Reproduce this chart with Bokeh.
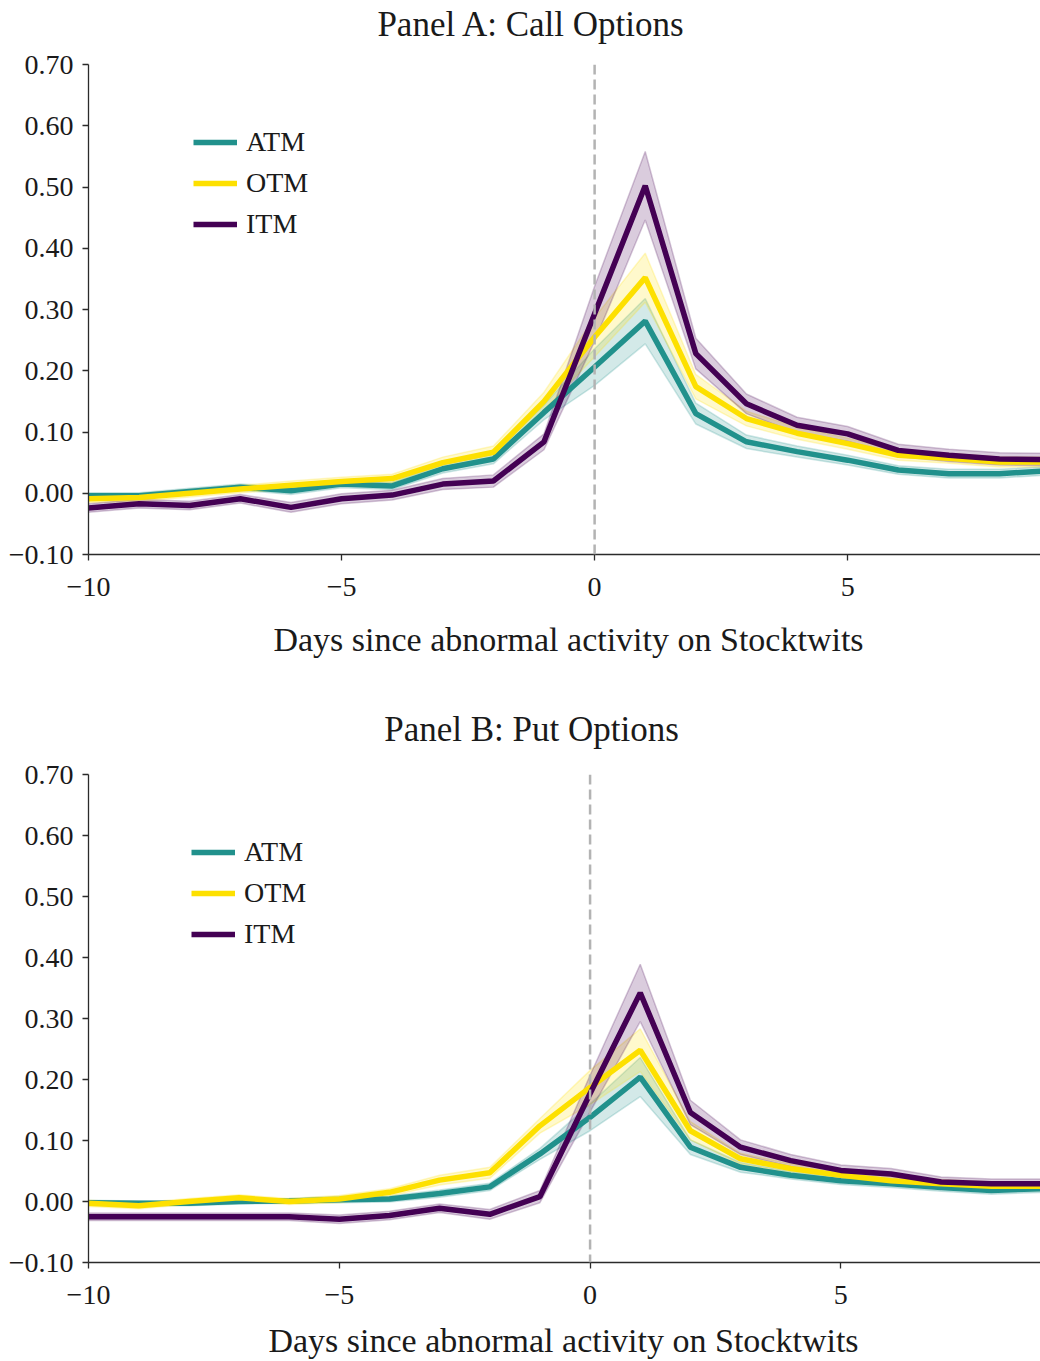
from bokeh.plotting import figure
from bokeh.models import (Span, Legend, LegendItem, FixedTicker, CustomJSTickFormatter, Range1d)
from bokeh.core.properties import value
from bokeh.layouts import column
from bokeh.embed import file_html
from bokeh.resources import INLINE

# ---------------- data ----------------
days = [-10, -9, -8, -7, -6, -5, -4, -3, -2, -1, 0, 1, 2, 3, 4, 5, 6, 7, 8, 9]

call_atm = [-0.004, -0.004, 0.003, 0.010, 0.004, 0.015, 0.012, 0.040, 0.056, 0.132,
            0.206, 0.281, 0.130, 0.084, 0.068, 0.054, 0.038, 0.032, 0.032, 0.037]
call_otm = [-0.009, -0.007, 0.000, 0.007, 0.013, 0.019, 0.024, 0.050, 0.067, 0.150,
            0.255, 0.352, 0.174, 0.122, 0.098, 0.081, 0.062, 0.057, 0.051, 0.051]
call_itm = [-0.024, -0.017, -0.020, -0.009, -0.023, -0.009, -0.003, 0.015, 0.020, 0.084,
            0.293, 0.502, 0.228, 0.146, 0.111, 0.097, 0.070, 0.062, 0.056, 0.055]
call_atm_ci = [0.005, 0.005, 0.005, 0.005, 0.006, 0.006, 0.006, 0.007, 0.008, 0.012,
               0.030, 0.037, 0.017, 0.011, 0.009, 0.008, 0.007, 0.007, 0.007, 0.007]
call_otm_ci = [0.006, 0.006, 0.006, 0.006, 0.007, 0.007, 0.007, 0.009, 0.010, 0.015,
               0.032, 0.040, 0.020, 0.012, 0.010, 0.009, 0.008, 0.008, 0.008, 0.008]
call_itm_ci = [0.007, 0.007, 0.007, 0.007, 0.008, 0.008, 0.008, 0.009, 0.010, 0.013,
               0.045, 0.056, 0.025, 0.016, 0.013, 0.012, 0.010, 0.010, 0.010, 0.010]

put_atm = [-0.002, -0.003, -0.003, 0.000, 0.001, 0.003, 0.004, 0.013, 0.024, 0.078,
           0.138, 0.204, 0.089, 0.056, 0.043, 0.034, 0.029, 0.023, 0.018, 0.021]
put_otm = [-0.003, -0.007, 0.000, 0.006, 0.000, 0.004, 0.015, 0.035, 0.047, 0.124,
           0.187, 0.248, 0.116, 0.070, 0.054, 0.043, 0.034, 0.029, 0.025, 0.025]
put_itm = [-0.025, -0.025, -0.025, -0.025, -0.025, -0.029, -0.023, -0.011, -0.021, 0.008,
           0.177, 0.342, 0.146, 0.089, 0.067, 0.051, 0.045, 0.032, 0.029, 0.029]
put_atm_ci = [0.004, 0.004, 0.004, 0.004, 0.004, 0.005, 0.005, 0.006, 0.006, 0.009,
              0.022, 0.032, 0.012, 0.008, 0.006, 0.006, 0.006, 0.006, 0.006, 0.006]
put_otm_ci = [0.005, 0.005, 0.005, 0.005, 0.005, 0.006, 0.006, 0.008, 0.009, 0.012,
              0.028, 0.035, 0.015, 0.009, 0.008, 0.007, 0.007, 0.007, 0.007, 0.007]
put_itm_ci = [0.006, 0.006, 0.006, 0.006, 0.006, 0.007, 0.007, 0.007, 0.008, 0.010,
              0.030, 0.047, 0.020, 0.012, 0.010, 0.009, 0.009, 0.008, 0.008, 0.008]

series_labels = ["ATM", "OTM", "ITM"]
y_ticks = [-0.10, 0.00, 0.10, 0.20, 0.30, 0.40, 0.50, 0.60, 0.70]
x_ticks = [-10, -5, 0, 5]
x_title = "Days since abnormal activity on Stocktwits"
titles = ["Panel A: Call Options", "Panel B: Put Options"]

# ---------------- styling ----------------
FONT = "Liberation Serif"
COLORS = ["#21918c", "#fde000", "#440154"]
AXIS_COLOR = "#2b2b2b"
TEXT_COLOR = "#1a1a1a"
Y0, Y1 = -0.10, 0.70
W = 1040
LEFT = 88          # left border shared by all rows (the column aligns frames)


def text_strip(txt, height, cx, cy, size):
    """A borderless strip holding one centred line of text (titles / axis titles).
    Its x range is expressed in page pixels so cx is the page column of the text centre."""
    f = figure(width=W, height=height, output_backend="svg", toolbar_location=None,
               x_range=Range1d(LEFT, W), y_range=Range1d(height, 0),
               min_border=0, min_border_left=LEFT,
               x_axis_type=None, y_axis_type=None)
    f.outline_line_color = None
    f.background_fill_color = "white"
    f.border_fill_color = "white"
    f.text(x=[cx], y=[cy - 0.03 * size], text=[txt], text_font=value(FONT),
           text_font_size=value(f"{size}px"), text_color=TEXT_COLOR,
           text_align="center", text_baseline="middle")
    return f


def make_panel(vals, cis, border_top, frame_h, border_bottom, x_end, legend_loc):
    p = figure(width=W, height=border_top + frame_h + border_bottom,
               output_backend="svg", toolbar_location=None,
               x_range=Range1d(-10, x_end), y_range=Range1d(Y0, Y1),
               min_border_left=LEFT, min_border_right=0,
               min_border_top=border_top, min_border_bottom=border_bottom)
    p.xgrid.visible = False
    p.ygrid.visible = False
    p.outline_line_color = None
    p.background_fill_color = "white"
    p.border_fill_color = "white"

    # confidence bands
    for v, ci, c in zip(vals, cis, COLORS):
        lo = [a - b for a, b in zip(v, ci)]
        hi = [a + b for a, b in zip(v, ci)]
        p.varea(x=days, y1=lo, y2=hi, fill_color=c, fill_alpha=0.2)
        p.line(days, lo, line_color=c, line_alpha=0.22, line_width=1.5)
        p.line(days, hi, line_color=c, line_alpha=0.22, line_width=1.5)

    p.add_layout(Span(location=0, dimension="height", line_color="#b3b3b3",
                      line_dash="10 5", line_width=2.5))

    renderers = [p.line(days, v, line_color=c, line_width=5.5) for v, c in zip(vals, COLORS)]

    legend = Legend(items=[LegendItem(label=l, renderers=[r]) for l, r in zip(series_labels, renderers)],
                    location=legend_loc, border_line_color=None, background_fill_alpha=0,
                    padding=0, margin=0, spacing=9, glyph_width=44, glyph_height=30,
                    label_height=30, label_standoff=9, label_text_font=FONT,
                    label_text_font_size="28px", label_text_color=TEXT_COLOR)
    p.add_layout(legend)

    p.xaxis.ticker = FixedTicker(ticks=x_ticks)
    p.yaxis.ticker = FixedTicker(ticks=y_ticks)
    p.xaxis.formatter = CustomJSTickFormatter(
        code="return (tick < 0 ? '\\u2212' : '') + Math.abs(tick).toFixed(0);")
    p.yaxis.formatter = CustomJSTickFormatter(
        code="return (tick < 0 ? '\\u2212' : '') + Math.abs(tick).toFixed(2);")
    for ax in (p.xaxis, p.yaxis):
        ax.minor_tick_line_color = None
        ax.axis_line_color = AXIS_COLOR
        ax.axis_line_width = 1.3
        ax.major_tick_line_color = AXIS_COLOR
        ax.major_tick_line_width = 1.3
        ax.major_tick_out = 6
        ax.major_tick_in = 0
        ax.major_label_text_font = FONT
        ax.major_label_text_font_size = "28px"
        ax.major_label_text_color = TEXT_COLOR
    p.yaxis.major_label_standoff = 9
    p.xaxis.major_label_standoff = 17
    return p


# Panel A  (page rows 0 .. 685)
tA = text_strip(titles[0], 44, 531, 25, 35)
pA = make_panel([call_atm, call_otm, call_itm], [call_atm_ci, call_otm_ci, call_itm_ci],
                border_top=20, frame_h=490, border_bottom=58, x_end=8.81,
                legend_loc=(105, 314))
xA = text_strip(x_title, 73, 568, 28, 34)

# Panel B  (page rows 685 .. 1361)
tB = text_strip(titles[1], 69, 531, 45, 35)
pB = make_panel([put_atm, put_otm, put_itm], [put_atm_ci, put_otm_ci, put_itm_ci],
                border_top=20, frame_h=488, border_bottom=54, x_end=8.98,
                legend_loc=(103, 312))
xB = text_strip(x_title, 45, 563, 25, 34)

layout = column(tA, pA, xA, tB, pB, xB, spacing=0)
open("out.html", "w").write(file_html(layout, INLINE))
